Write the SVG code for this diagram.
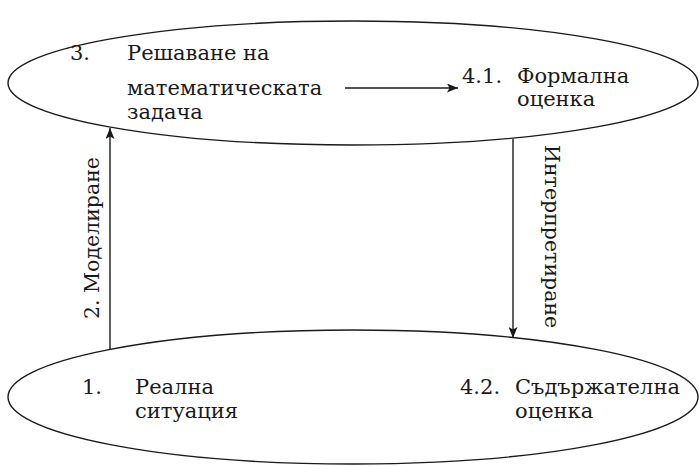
<svg xmlns="http://www.w3.org/2000/svg" width="699" height="466" viewBox="0 0 699 466">
  <style>
    .oval { fill: none; stroke: #1a1a1a; stroke-width: 1.4; }
    .lbl { font-family: "DejaVu Serif", "Liberation Serif", serif; font-size: 21px; fill: #1a1a1a; }
    .side { font-size: 20.5px; }
    .conn { stroke: #1a1a1a; stroke-width: 1.4; fill: none; marker-end: url(#arrow); }
  </style>
  <defs>
    <marker id="arrow" viewBox="0 0 11 9" refX="11" refY="4.5" markerWidth="11" markerHeight="9" markerUnits="userSpaceOnUse" orient="auto">
      <path d="M0,0 L11,4.5 L0,9 L2.5,4.5 Z" fill="#1a1a1a"/>
    </marker>
  </defs>
  <rect width="699" height="466" fill="#ffffff"/>

  <!-- connectors -->
  <g id="connectors">
    <line class="conn" x1="110" y1="350" x2="110" y2="128"/>
    <line class="conn" x1="513" y1="139" x2="513" y2="338"/>
    <line class="conn" x1="345" y1="88" x2="458" y2="88"/>
    <text class="lbl side" lang="bg" transform="translate(99,319) rotate(-90)">2. Моделиране</text>
    <text class="lbl side" lang="bg" transform="translate(545,145) rotate(90)">Интерпретиране</text>
  </g>

  <!-- upper oval: mathematical world -->
  <g id="math-world">
    <ellipse class="oval" cx="353" cy="83" rx="345" ry="62"/>
    <g id="node-3">
      <text class="lbl" x="70" y="60">3.</text>
      <text class="lbl" lang="bg" x="127" y="60">Решаване на</text>
      <text class="lbl" lang="bg" x="127" y="95">математическата</text>
      <text class="lbl" lang="bg" x="127" y="119">задача</text>
    </g>
    <g id="node-4-1">
      <text class="lbl" x="462" y="83">4.1.</text>
      <text class="lbl" lang="bg" x="517" y="83">Формална</text>
      <text class="lbl" lang="bg" x="517" y="106">оценка</text>
    </g>
  </g>

  <!-- lower oval: real world -->
  <g id="real-world">
    <ellipse class="oval" cx="353" cy="397" rx="345" ry="67"/>
    <g id="node-1">
      <text class="lbl" x="82" y="394">1.</text>
      <text class="lbl" lang="bg" x="135" y="394">Реална</text>
      <text class="lbl" lang="bg" x="135" y="418">ситуация</text>
    </g>
    <g id="node-4-2">
      <text class="lbl" x="460" y="394">4.2.</text>
      <text class="lbl" lang="bg" x="515" y="394">Съдържателна</text>
      <text class="lbl" lang="bg" x="515" y="418">оценка</text>
    </g>
  </g>
</svg>
